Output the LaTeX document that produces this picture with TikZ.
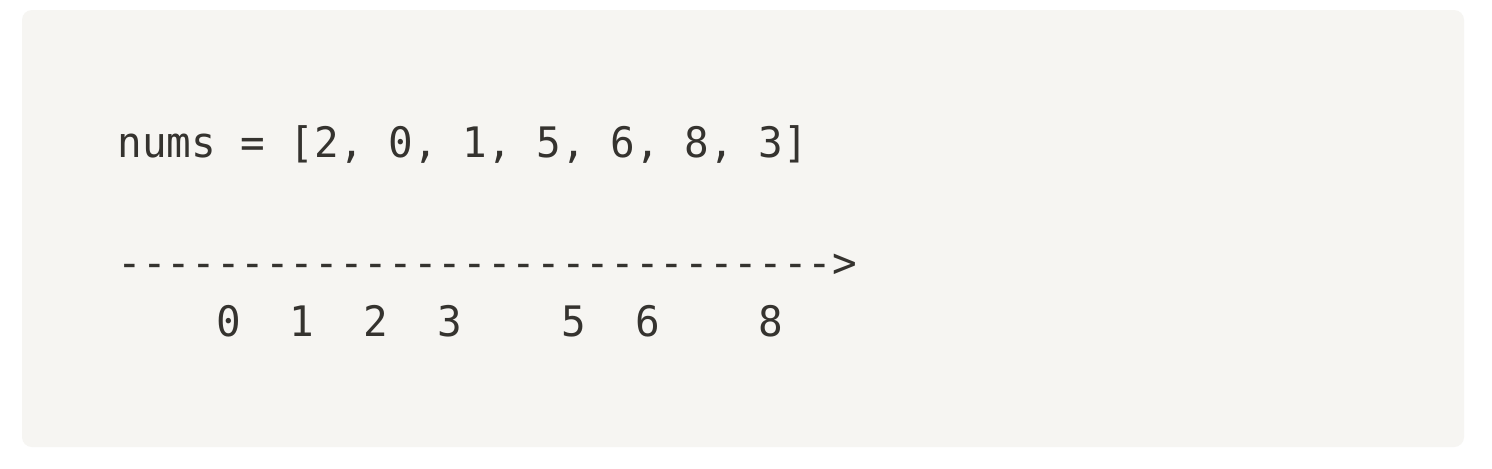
\documentclass[tikz,border=0pt]{standalone}
\usepackage{fontspec}
\setmonofont[FakeStretch=0.975]{DejaVu Sans Mono}
\usepackage{xcolor}
\usepackage{tikz}
\usetikzlibrary{positioning}
\definecolor{CodeBg}{HTML}{F6F5F2}
\definecolor{CodeInk}{HTML}{35332F}

\begin{document}
\begin{tikzpicture}[
  x=0.5pt, y=-0.5pt,
  codeline/.style={anchor=base west, inner sep=0pt, text=CodeInk,
    font=\ttfamily\fontsize{21}{25}\selectfont}
]
  \useasboundingbox (0,0) rectangle (1492,468);
  \fill[white] (0,0) rectangle (1492,468);
  \fill[CodeBg, rounded corners=5pt] (22,10) rectangle (1464,447);
  \node[codeline] (nums) at (117,157) {nums = [2, 0, 1, 5, 6, 8, 3]};
  \node[codeline] (axis) at (117,277) {----------------------------->};
  \node[codeline] (ticks) at (117,336) {~~~~0~~1~~2~~3~~~~5~~6~~~~8};
\end{tikzpicture}
\end{document}
